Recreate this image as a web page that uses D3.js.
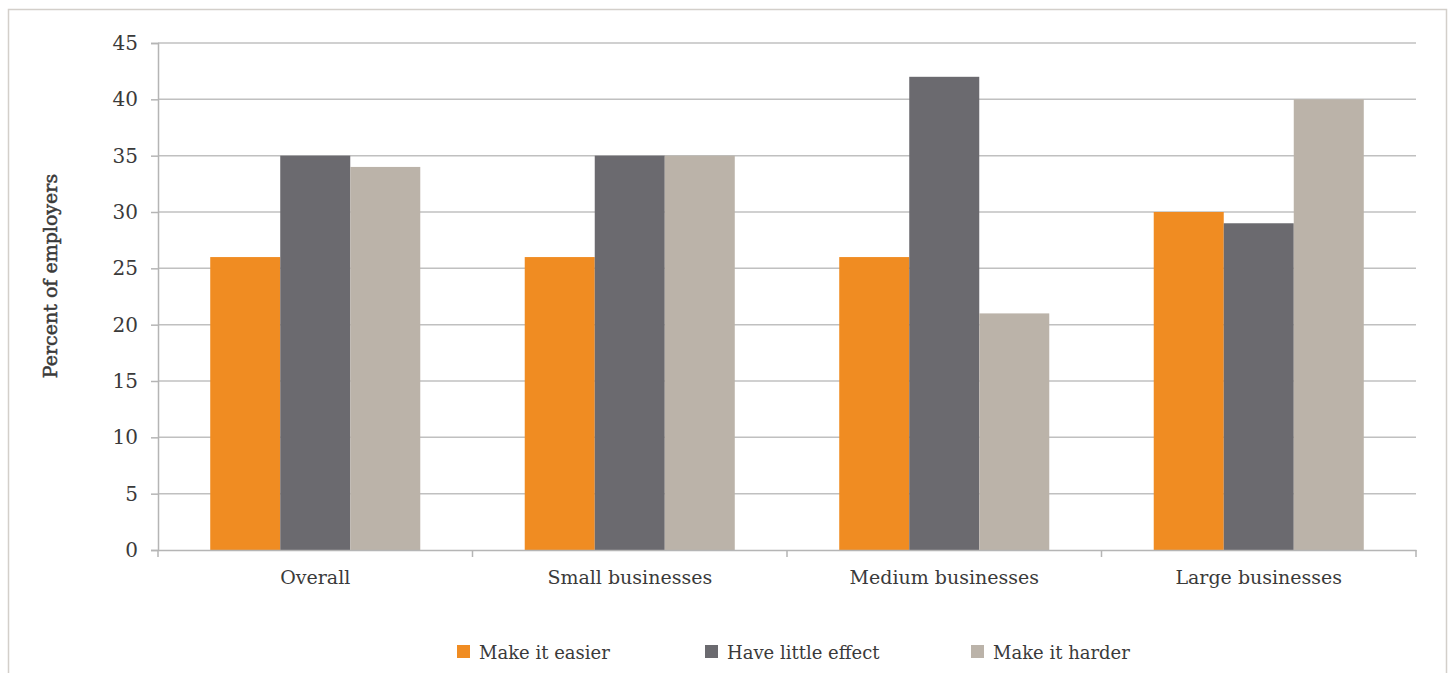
<!DOCTYPE html>
<html>
<head>
<meta charset="utf-8">
<script src="https://cdn.jsdelivr.net/npm/d3@7"></script>
<style>
  html, body { margin: 0; padding: 0; background: #fff; }
  svg { display: block; }
  text { font-family: "DejaVu Serif", "Liberation Serif", serif; fill: #3a3a3a; }
</style>
</head>
<body>
<svg id="chart" width="1448" height="673"></svg>
<script>
// Share of employers by expected effect, per business size
const categories = ["Overall", "Small businesses", "Medium businesses", "Large businesses"];
const seriesNames = ["Make it easier", "Have little effect", "Make it harder"];
const makeEasier = [26, 26, 26, 30];
const littleEffect = [35, 35, 42, 29];
const makeHarder = [34, 35, 21, 40];
const yTicks = [0, 5, 10, 15, 20, 25, 30, 35, 40, 45];
const colors = ["#f08c22", "#6b6a6f", "#bbb3a9"];

const seriesValues = [makeEasier, littleEffect, makeHarder];

const svg = d3.select("#chart");
const W = 1448, H = 673;
const margin = { left: 158, right: 32, top: 43, bottom: 123 };
const x0 = margin.left, x1 = W - margin.right;
const yTop = margin.top, yBot = H - margin.bottom;

// outer frame
svg.append("path")
  .attr("d", `M8.5,${H + 2} V9.5 H1446.5 V${H + 2}`)
  .attr("fill", "none").attr("stroke", "#d3cfca").attr("stroke-width", 1.5);

const x = d3.scaleBand().domain(categories).range([x0, x1]).paddingInner(0).paddingOuter(0);
const xs = d3.scaleBand().domain(seriesNames).range([0, x.bandwidth()]).paddingInner(0).paddingOuter(0.746);
const y = d3.scaleLinear().domain([0, 45]).range([yBot, yTop]);

// horizontal gridlines
svg.append("g").selectAll("line").data(yTicks.filter(d => d > 0)).join("line")
  .attr("x1", x0).attr("x2", x1)
  .attr("y1", d => y(d)).attr("y2", d => y(d))
  .attr("stroke", "#c0c0c0").attr("stroke-width", 1.5);

// y axis
const yAxis = svg.append("g").attr("transform", `translate(${x0},0)`)
  .call(d3.axisLeft(y).tickValues(yTicks).tickSize(7).tickPadding(13).tickFormat(d3.format("d")));
yAxis.select(".domain").attr("stroke", "#b5b5b5").attr("stroke-width", 1.5);
yAxis.selectAll(".tick line").attr("stroke", "#b5b5b5").attr("stroke-width", 1.5);
yAxis.selectAll(".tick text").style("font-size", "20px").attr("fill", "#3a3a3a")
  .style("font-family", "'DejaVu Serif', serif");

// bars
const groups = svg.append("g").selectAll("g").data(categories).join("g")
  .attr("transform", d => `translate(${x(d)},0)`);
groups.selectAll("rect").data((c, i) => seriesNames.map((s, j) => ({ s, j, v: seriesValues[j][i] })))
  .join("rect")
  .attr("x", d => xs(d.s)).attr("width", xs.bandwidth())
  .attr("y", d => y(d.v)).attr("height", d => y(0) - y(d.v))
  .attr("fill", d => colors[d.j]);

// x axis
const xAxis = svg.append("g").attr("transform", `translate(0,${yBot})`)
  .call(d3.axisBottom(x).tickSize(0).tickPadding(21));
xAxis.select(".domain").attr("stroke", "#b5b5b5").attr("stroke-width", 1.5);
xAxis.selectAll(".tick text").style("font-size", "19px").attr("fill", "#3a3a3a")
  .style("font-family", "'DejaVu Serif', serif");
// category boundary ticks
const bounds = categories.map(c => x(c)).concat([x1]);
svg.append("g").selectAll("line").data(bounds).join("line")
  .attr("x1", d => d).attr("x2", d => d)
  .attr("y1", yBot).attr("y2", yBot + 7)
  .attr("stroke", "#b5b5b5").attr("stroke-width", 1.5);

// y axis title
svg.append("text")
  .attr("transform", `translate(57,276) rotate(-90)`)
  .attr("text-anchor", "middle")
  .style("font-size", "19px")
  .attr("stroke", "#3a3a3a").attr("stroke-width", 0.5)
  .text("Percent of employers");

// legend
const legendX = [457, 705, 971];
const legend = svg.append("g").selectAll("g").data(seriesNames).join("g")
  .attr("transform", (d, i) => `translate(${legendX[i]},645)`);
legend.append("rect").attr("width", 13).attr("height", 13).attr("fill", (d, i) => colors[i]);
legend.append("text").attr("x", 22).attr("y", 14)
  .style("font-size", "18px").text(d => d);
</script>
</body>
</html>
